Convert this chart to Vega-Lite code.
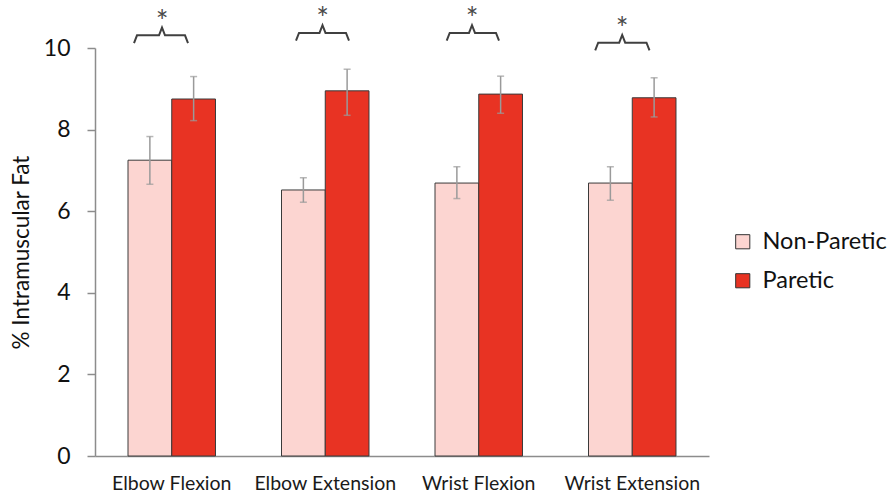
{
  "$schema": "https://vega.github.io/schema/vega-lite/v6.json",
  "width": 614,
  "height": 408,
  "autosize": {"type": "none"},
  "padding": {"left": 95, "top": 48, "right": 179, "bottom": 40},
  "background": "white",
  "config": {
    "view": {"stroke": null},
    "font": "Lato",
    "scale": {"offsetBandPaddingInner": 0, "offsetBandPaddingOuter": 0}
  },
  "datasets": {
    "bars": [
      {"muscle": "Elbow Flexion", "side": "Non-Paretic", "mean": 7.25, "lo": 6.66, "hi": 7.83},
      {"muscle": "Elbow Flexion", "side": "Paretic", "mean": 8.75, "lo": 8.22, "hi": 9.30},
      {"muscle": "Elbow Extension", "side": "Non-Paretic", "mean": 6.52, "lo": 6.22, "hi": 6.82},
      {"muscle": "Elbow Extension", "side": "Paretic", "mean": 8.95, "lo": 8.35, "hi": 9.48},
      {"muscle": "Wrist Flexion", "side": "Non-Paretic", "mean": 6.69, "lo": 6.31, "hi": 7.09},
      {"muscle": "Wrist Flexion", "side": "Paretic", "mean": 8.87, "lo": 8.40, "hi": 9.31},
      {"muscle": "Wrist Extension", "side": "Non-Paretic", "mean": 6.69, "lo": 6.27, "hi": 7.09},
      {"muscle": "Wrist Extension", "side": "Paretic", "mean": 8.78, "lo": 8.31, "hi": 9.27}
    ],
    "brackets": [
      {"muscle": "Elbow Flexion", "ord": 1, "off": 6, "yv": 10.12},
      {"muscle": "Elbow Flexion", "ord": 2, "off": 9, "yv": 10.31},
      {"muscle": "Elbow Flexion", "ord": 3, "off": 31, "yv": 10.31},
      {"muscle": "Elbow Flexion", "ord": 4, "off": 34, "yv": 10.50},
      {"muscle": "Elbow Flexion", "ord": 5, "off": 37, "yv": 10.31},
      {"muscle": "Elbow Flexion", "ord": 6, "off": 57, "yv": 10.31},
      {"muscle": "Elbow Flexion", "ord": 7, "off": 60, "yv": 10.12},
      {"muscle": "Elbow Extension", "ord": 1, "off": 14.5, "yv": 10.18},
      {"muscle": "Elbow Extension", "ord": 2, "off": 17.5, "yv": 10.37},
      {"muscle": "Elbow Extension", "ord": 3, "off": 38, "yv": 10.37},
      {"muscle": "Elbow Extension", "ord": 4, "off": 41, "yv": 10.56},
      {"muscle": "Elbow Extension", "ord": 5, "off": 44, "yv": 10.37},
      {"muscle": "Elbow Extension", "ord": 6, "off": 64.5, "yv": 10.37},
      {"muscle": "Elbow Extension", "ord": 7, "off": 67.5, "yv": 10.18},
      {"muscle": "Wrist Flexion", "ord": 1, "off": 11.7, "yv": 10.18},
      {"muscle": "Wrist Flexion", "ord": 2, "off": 14.7, "yv": 10.37},
      {"muscle": "Wrist Flexion", "ord": 3, "off": 34, "yv": 10.37},
      {"muscle": "Wrist Flexion", "ord": 4, "off": 37, "yv": 10.56},
      {"muscle": "Wrist Flexion", "ord": 5, "off": 40, "yv": 10.37},
      {"muscle": "Wrist Flexion", "ord": 6, "off": 61, "yv": 10.37},
      {"muscle": "Wrist Flexion", "ord": 7, "off": 64, "yv": 10.18},
      {"muscle": "Wrist Extension", "ord": 1, "off": 6.7, "yv": 9.94},
      {"muscle": "Wrist Extension", "ord": 2, "off": 9.7, "yv": 10.13},
      {"muscle": "Wrist Extension", "ord": 3, "off": 30.7, "yv": 10.13},
      {"muscle": "Wrist Extension", "ord": 4, "off": 33.7, "yv": 10.32},
      {"muscle": "Wrist Extension", "ord": 5, "off": 36.7, "yv": 10.13},
      {"muscle": "Wrist Extension", "ord": 6, "off": 58, "yv": 10.13},
      {"muscle": "Wrist Extension", "ord": 7, "off": 61, "yv": 9.94}
    ],
    "stars": [
      {"muscle": "Elbow Flexion", "off": 34, "yv": 10.62},
      {"muscle": "Elbow Extension", "off": 41, "yv": 10.68},
      {"muscle": "Wrist Flexion", "off": 37, "yv": 10.68},
      {"muscle": "Wrist Extension", "off": 33.7, "yv": 10.44}
    ]
  },
  "encoding": {
    "x": {
      "field": "muscle",
      "type": "nominal",
      "sort": ["Elbow Flexion", "Elbow Extension", "Wrist Flexion", "Wrist Extension"],
      "scale": {"paddingInner": 0.43, "paddingOuter": 0.215},
      "axis": {
        "title": null,
        "labelAngle": 0,
        "ticks": false,
        "domainColor": "#8c8c8c",
        "domainWidth": 1.5,
        "labelFontSize": 19.5,
        "labelColor": "#1a1a1a",
        "labelPadding": 18
      }
    }
  },
  "layer": [
    {
      "data": {"name": "bars"},
      "mark": {"type": "bar", "stroke": "#3a3a3a", "strokeWidth": 1},
      "encoding": {
        "xOffset": {"field": "side", "type": "nominal", "sort": ["Non-Paretic", "Paretic"]},
        "y": {
          "field": "mean",
          "type": "quantitative",
          "scale": {"domain": [0, 10]},
          "axis": {
            "values": [0, 2, 4, 6, 8, 10],
            "grid": false,
            "tickColor": "#8c8c8c",
            "tickSize": 8,
            "tickWidth": 1.5,
            "domainColor": "#8c8c8c",
            "domainWidth": 1.5,
            "labelFontSize": 23,
            "labelColor": "#111111",
            "labelPadding": 17,
            "title": "% Intramuscular Fat",
            "titleFontSize": 22.5,
            "titleFontWeight": "normal",
            "titleColor": "#111111",
            "titlePadding": 10
          }
        },
        "color": {
          "field": "side",
          "type": "nominal",
          "scale": {"domain": ["Non-Paretic", "Paretic"], "range": ["#fcd5d1", "#e83323"]},
          "legend": {
            "title": null,
            "orient": "none",
            "legendX": 636,
            "legendY": 182,
            "labelFontSize": 23.5,
            "labelColor": "#111111",
            "symbolType": "square",
            "symbolSize": 200,
            "symbolStrokeColor": "#333333",
            "symbolStrokeWidth": 1,
            "rowPadding": 14,
            "labelOffset": 8
          }
        }
      }
    },
    {
      "data": {"name": "bars"},
      "mark": {"type": "rule", "color": "#9a9a9a", "strokeWidth": 1.5},
      "encoding": {
        "xOffset": {"field": "side", "type": "nominal", "sort": ["Non-Paretic", "Paretic"]},
        "y": {"field": "lo", "type": "quantitative"},
        "y2": {"field": "hi"}
      }
    },
    {
      "data": {"name": "bars"},
      "mark": {"type": "tick", "color": "#9a9a9a", "size": 7, "thickness": 1.5},
      "encoding": {
        "xOffset": {"field": "side", "type": "nominal", "sort": ["Non-Paretic", "Paretic"]},
        "y": {"field": "hi", "type": "quantitative"}
      }
    },
    {
      "data": {"name": "bars"},
      "mark": {"type": "tick", "color": "#9a9a9a", "size": 7, "thickness": 1.5},
      "encoding": {
        "xOffset": {"field": "side", "type": "nominal", "sort": ["Non-Paretic", "Paretic"]},
        "y": {"field": "lo", "type": "quantitative"}
      }
    },
    {
      "data": {"name": "brackets"},
      "mark": {"type": "line", "color": "#404040", "strokeWidth": 2, "clip": false},
      "encoding": {
        "xOffset": {"field": "off", "type": "quantitative", "scale": {"domain": [0, 87.5], "zero": false, "nice": false}},
        "y": {"field": "yv", "type": "quantitative"},
        "detail": {"field": "muscle"},
        "order": {"field": "ord"}
      }
    },
    {
      "data": {"name": "stars"},
      "mark": {"type": "text", "text": "*", "fontSize": 30, "color": "#4a4a4a", "baseline": "middle", "clip": false},
      "encoding": {
        "xOffset": {"field": "off", "type": "quantitative", "scale": {"domain": [0, 87.5], "zero": false, "nice": false}},
        "y": {"field": "yv", "type": "quantitative"}
      }
    }
  ],
  "resolve": {"scale": {"xOffset": "independent"}}
}
